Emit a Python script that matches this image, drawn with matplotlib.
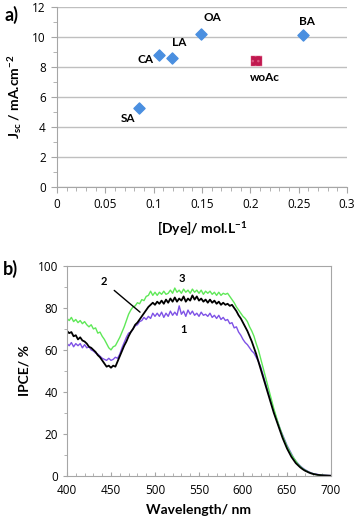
import matplotlib
matplotlib.use("Agg")
import matplotlib.pyplot as plt
from matplotlib.ticker import MultipleLocator, FuncFormatter
import numpy as np

# tick numbers in Open Sans, labels in bold Lato
plt.rcParams['font.family'] = ['Open Sans', 'DejaVu Sans']
plt.rcParams['mathtext.fontset'] = 'custom'
plt.rcParams['mathtext.rm'] = 'Lato:bold'
plt.rcParams['mathtext.it'] = 'Lato:bold'
plt.rcParams['mathtext.bf'] = 'Lato:bold'
plt.rcParams['axes.unicode_minus'] = False
LAB = ['Lato', 'DejaVu Sans']

# panel a: Jsc vs dye loading
dye_names = ["SA", "CA", "LA", "OA", "BA"]
dye_conc = [0.085, 0.106, 0.119, 0.149, 0.254]
dye_jsc = [5.3, 8.8, 8.6, 10.2, 10.1]
woac_conc = [0.206]
woac_jsc = [8.4]
label_pos = {"SA": (0.073, 4.6), "CA": (0.092, 8.5), "LA": (0.126, 9.6),
             "OA": (0.161, 11.3), "BA": (0.259, 11.0), "woAc": (0.2155, 7.3)}

# panel b: IPCE spectra, 2.5 nm steps from 400 to 700 nm
wavelength = np.arange(400, 702.5, 2.5)
ipce_1 = [63, 62, 63.5, 61.5, 63, 62, 63, 61, 62.5,
          61, 61.5, 60, 59.5, 58.5, 58, 57, 56,
          55.5, 55, 56, 55, 55.5, 56.5, 56, 58,
          61, 63.5, 66, 68, 68.5, 70, 71.5, 72,
          73.5, 74, 75.5, 74.5, 76, 75, 77.5, 76,
          77.5, 76, 78, 75.5, 77.5, 76, 78.5, 76.5,
          78, 76.5, 81, 77, 78.5, 76, 79, 77,
          78.5, 76.5, 77.5, 76, 78, 76.5, 77, 76,
          77.5, 75.5, 76.5, 75, 76.5, 74.5, 75.5, 74,
          74.5, 72.5, 73, 70.5, 71, 68.5, 67, 65,
          63.5, 62.5, 61, 59.5, 58.5, 56.5, 54.5, 52,
          48.5, 45, 41.5, 38, 34.5, 31, 28, 25,
          22, 19.5, 17, 14.5, 12.5, 10.5, 8.5, 7,
          5.8, 4.7, 3.8, 3, 2.4, 1.8, 1.4, 1,
          0.8, 0.6, 0.4, 0.3, 0.2, 0.15, 0.1, 0.05]
ipce_2 = [69, 68, 68.5, 66.5, 67, 65, 66, 64.5, 64,
          63, 61.5, 61, 60, 59, 57.5, 56.5, 55,
          53.5, 52, 52.5, 51.5, 52.5, 52, 54.5, 57,
          59.5, 62, 64, 66.5, 68.5, 70, 72, 73,
          74.5, 76, 77.5, 79, 80.5, 81.5, 82.5, 81.5,
          83, 82, 83.5, 82, 84, 82.5, 84.5, 83,
          85, 83, 84.5, 83.5, 85.5, 83, 84.5, 83.5,
          86, 84, 85.5, 83.5, 84.5, 83, 84, 82.5,
          84, 82.5, 83.5, 82, 83, 81.5, 82.5, 81.5,
          82, 81, 81.5, 80, 78.5, 76.5, 75, 73,
          71, 69, 66.5, 64, 61, 58, 54.5, 51,
          47.5, 44, 40.5, 37, 33.5, 30, 27, 24,
          21, 18, 15.5, 13, 11, 9, 7.5, 6,
          5, 4, 3.2, 2.5, 2, 1.5, 1.1, 0.8,
          0.6, 0.4, 0.3, 0.2, 0.15, 0.1, 0.05, 0]
ipce_3 = [75, 74, 75.5, 73.5, 74.5, 73, 74, 72.5, 73.5,
          72, 71, 72, 70, 70.5, 68, 68.5, 66.5,
          65, 63, 61, 60, 61.5, 62, 64, 66,
          68.5, 71, 74, 77, 79, 80.5, 81, 82.5,
          82, 84, 83.5, 85.5, 86, 88, 86, 87.5,
          86, 87.5, 86.5, 88, 86.5, 87, 88.5, 87,
          89.5, 87.5, 88.5, 87, 89, 87.5, 88.5, 87,
          89, 87.5, 88.5, 87, 88.5, 86.5, 88, 87,
          88, 86.5, 87.5, 86, 87.5, 86, 87, 86.5,
          87, 85.5, 84, 82.5, 80.5, 79, 77.5, 76,
          75, 73.5, 71, 69, 66.5, 63, 60, 56,
          52, 48, 44, 40, 36, 32, 28.5, 25,
          22, 19, 16.5, 14, 12, 10, 8.5, 7,
          5.5, 4.5, 3.5, 2.8, 2.2, 1.6, 1.2, 0.9,
          0.6, 0.4, 0.3, 0.2, 0.1, 0.05, 0.02, 0]

gray = "#A6A6A6"
fig = plt.figure(figsize=(3.59, 5.21), dpi=100)

# ---- panel a ----
ax1 = fig.add_axes([0.1588, 0.641, 0.8078, 0.3456])
ax1.grid(axis="y", color="#BFBFBF", lw=1.0)
ax1.set_axisbelow(True)
ax1.scatter(dye_conc, dye_jsc, marker="D", s=32, color="#4A8FE0", zorder=3)
ax1.scatter(woac_conc, woac_jsc, marker="s", s=60, color="#C0184F",
            edgecolors="#D9557F", linewidths=0.3, hatch="...", zorder=3)
for name, (lx, ly) in label_pos.items():
    ax1.text(lx, ly, name, ha="center", va="center", fontsize=8.5,
             fontweight="bold", family=LAB)
ax1.set_xlim(0, 0.3)
ax1.set_ylim(0, 12)
ax1.xaxis.set_major_locator(MultipleLocator(0.05))
ax1.xaxis.set_minor_locator(MultipleLocator(0.01))
ax1.yaxis.set_major_locator(MultipleLocator(2))
ax1.yaxis.set_minor_locator(MultipleLocator(1))
ax1.xaxis.set_major_formatter(FuncFormatter(lambda v, p: "%g" % round(v, 2)))
for s in ["top", "right"]:
    ax1.spines[s].set_visible(False)
for s in ["left", "bottom"]:
    ax1.spines[s].set_color(gray)
ax1.tick_params(which="both", color=gray, labelsize=8.5, direction="out")
ax1.tick_params(which="major", length=4, pad=4)
ax1.tick_params(which="minor", length=3)
ax1.set_xlabel("[Dye]/ mol.L$^{-1}$", fontsize=10, fontweight="bold", family=LAB, labelpad=6)
ax1.set_ylabel("J$_{sc}$ / mA.cm$^{-2}$", fontsize=10, fontweight="bold", family=LAB, labelpad=6)
fig.text(0.012, 0.972, "a)", fontsize=13, fontweight="bold", family=LAB, va="center")

# ---- panel b ----
ax2 = fig.add_axes([0.1866, 0.0869, 0.7354, 0.4025])
ax2.plot(wavelength, ipce_1, color="#7E52E6", lw=1.0)
ax2.plot(wavelength, ipce_3, color="#5FE858", lw=1.0)
ax2.plot(wavelength, ipce_2, color="black", lw=1.3)
ax2.set_xlim(400, 700)
ax2.set_ylim(0, 100)
ax2.xaxis.set_major_locator(MultipleLocator(50))
ax2.xaxis.set_minor_locator(MultipleLocator(10))
ax2.yaxis.set_major_locator(MultipleLocator(20))
ax2.yaxis.set_minor_locator(MultipleLocator(10))
for s in ax2.spines.values():
    s.set_color(gray)
ax2.tick_params(axis="x", which="both", direction="in", color=gray, labelsize=8.5, pad=6)
ax2.tick_params(axis="y", which="both", direction="out", color=gray, labelsize=8.5)
ax2.tick_params(which="major", length=3)
ax2.tick_params(which="minor", length=2)
ax2.annotate("2", xy=(483, 78), xytext=(442, 92.5), fontsize=8, fontweight="bold",
             family=LAB, ha="center", va="center",
             arrowprops=dict(arrowstyle="-", color="black", lw=1.0, shrinkA=4, shrinkB=0))
ax2.text(530, 94, "3", fontsize=8, fontweight="bold", family=LAB, ha="center", va="center")
ax2.text(532, 69.5, "1", fontsize=8, fontweight="bold", family=LAB, ha="center", va="center")
ax2.set_xlabel("Wavelength/ nm", fontsize=10, fontweight="bold", family=LAB, labelpad=5)
ax2.set_ylabel("IPCE/ %", fontsize=10, fontweight="bold", family=LAB, labelpad=5)
fig.text(0.008, 0.484, "b)", fontsize=13, fontweight="bold", family=LAB, va="center")

fig.savefig("out.png", dpi=100)
